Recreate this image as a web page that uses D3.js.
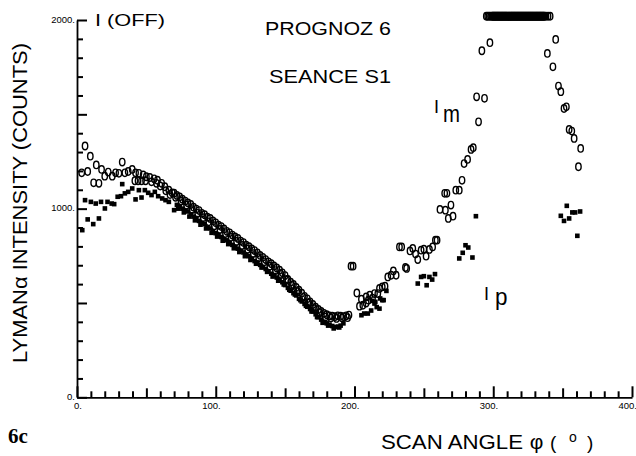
<!DOCTYPE html>
<html><head><meta charset="utf-8">
<script src="https://cdn.jsdelivr.net/npm/d3@7"></script>
<style>body{margin:0;background:#fff}svg{display:block}</style>
</head><body>
<svg id="chart" width="636" height="456"></svg>
<script>
// Axis ticks and labels
const xTickValues = [0, 100, 200, 300, 400];
const xTickLabels = ["0.", "100.", "200.", "300.", "400."];
const yTickValues = [0, 1000, 2000];
const yTickLabels = ["0.", "1000.", "2000."];
// Minor tick positions along each axis
const xMinorTicks = [0,10,20,30,40,50,60,70,80,90,100,110,120,130,140,150,160,170,180,190,200,210,220,230,240,250,260,270,280,290,300,310,320,330,340,350,360,370,380,390,400];
const yMinorTicks = [0,100,200,300,400,500,600,700,800,900,1000,1100,1200,1300,1400,1500,1600,1700,1800,1900,2000];

// I_m : open markers, [scan angle (deg), counts]
const imStart = [[3.4,1190],[5.8,1332],[7.7,1197],[9.6,1278],[12,1137],[13.9,1232],[15.8,1134],[17.7,1208],[20,1172],[22.5,1194],[25.4,1172],[27.8,1190],[30.2,1187],[32.6,1247],[34.5,1190],[36.9,1197],[39.8,1208],[42.2,1190],[44.6,1187],[47.7,1179],[50,1169],[52.5,1165],[55.6,1158],[58,1151],[61,1134],[63.3,1116],[66.2,1098],[68.6,1084],[41.7,1148],[44,1148],[46.5,1148],[49.4,1148],[53.7,1142],[57.3,1134],[60,1120],[64,1095],[67,1075]];
const imDecline = [[70,1082],[72,1070],[74,1062],[76,1050],[78,1040],[80,1030],[82,1022],[84,1008],[86,998],[88,990],[90,975],[92,968],[94,955],[96,948],[98,935],[100,925],[102,912],[104,905],[106,892],[108,880],[110,872],[112,860],[114,850],[116,842],[118,828],[120,820],[122,806],[124,798],[126,786],[128,778],[130,765],[132,752],[134,742],[136,730],[138,718],[140,708],[142,696],[144,686],[146,674],[148,660],[150,645],[152,625],[154,610],[156,598],[158,582],[160,568],[162,552],[164,535],[166,522],[168,506],[170,492],[172,478],[174,466],[176,455],[178,445],[180,438],[182,432],[184,430],[186,428],[188,432],[190,430],[192,428],[194,432],[196,436],
  [71,1060],[75,1040],[79,1018],[83,995],[87,975],[91,952],[95,930],[99,910],[103,890],[107,868],[111,848],[115,826],[119,805],[123,785],[127,762],[131,740],[135,718],[139,695],[143,672],[147,652],[151,625],[155,592],[159,560],[163,530],[167,500],[171,470],[175,448],[179,425],[183,420],[187,418],[191,420],[195,422]];
const imRise = [[197.5,695],[199,695],[201.7,553],[203.6,483],[206,488],[208.4,500],[205,520],[210,515],[213,525],[208.4,532],[211,541],[214.4,550],[216.8,550],[218,577],[220,585],[222,589],[224,638],[226.4,647],[228,670],[230,647],[232.4,797],[234,797],[236.7,688],[237.6,683],[240,776],[242,789],[244,759],[245.6,730],[248,780],[250,785],[251.6,748],[254,784],[256.3,797],[258.3,833],[259.5,833]];
const imClimb = [[261.6,996],[265.5,992],[265,1081],[266.6,1081],[267.6,948],[271,960],[269.5,1019],[273,1098],[275.5,1098],[277.5,1150],[279,1239],[281.5,1261],[284,1314],[285.6,1323],[289.4,1460],[288,1593],[293.7,1585],[291.8,1837],[297.6,1880]];
const imSaturated = [[295,2020],[296,2020],[297,2020],[298,2020],[299,2020],[299.5,2020],[300,2020],[300.5,2020],[301,2020],[301.5,2020],[302,2020],[302.5,2020],[303,2020],[303.5,2020],[304,2020],[304.5,2020],[305,2020],[305.5,2020],[306,2020],[306.5,2020],[307,2020],[307.5,2020],[308,2020],[308.5,2020],[309,2020],[309.5,2020],[310,2020],[310.5,2020],[311,2020],[311.5,2020],[312,2020],[312.5,2020],[313,2020],[313.5,2020],[314,2020],[314.5,2020],[315,2020],[315.5,2020],[316,2020],[316.5,2020],[317,2020],[317.5,2020],[318,2020],[318.5,2020],[319,2020],[319.5,2020],[320,2020],[320.5,2020],[321,2020],[321.5,2020],[322,2020],[322.5,2020],[323,2020],[323.5,2020],[324,2020],[324.5,2020],[325,2020],[325.5,2020],[326,2020],[326.5,2020],[327,2020],[327.5,2020],[328,2020],[328.5,2020],[329,2020],[329.5,2020],[330,2020],[330.5,2020],[331,2020],[331.5,2020],[332,2020],[332.5,2020],[333,2020],[333.5,2020],[334,2020],[334.5,2020],[335,2020],[335.5,2020],[336,2020],[336.5,2020],[337,2020],[338,2020],[339.5,2020],[341,2020]];
const imFall = [[339,1823],[343,1752],[345,1897],[347,1650],[348.7,1620],[351,1531],[352.7,1540],[354.7,1420],[356.6,1411],[358.3,1372],[363,1319],[361.4,1222]];

// I_p : filled markers, [scan angle (deg), counts]
const ipStart = [[3.8,886],[5.8,1045],[7.7,943],[10,1036],[11.7,918],[13.5,1027],[15.8,948],[17.3,1036],[20.1,1001],[22,1036],[25,1027],[26.8,1024],[29.3,1063],[31.7,1066],[32.6,1130],[34.5,1081],[36.9,1089],[39.8,1107],[42.2,1049],[44.6,1098],[46.5,1059],[48.9,1098],[51.3,1084],[53.7,1072],[56.1,1089],[58.5,1066],[61.4,1054],[63.8,1045],[66.2,1036],[70,992]];
const ipDecline = [[72,1020],[74,1012],[76,1000],[78,990],[80,985],[82,970],[84,958],[86,950],[88,935],[90,925],[92,918],[94,900],[96,895],[98,880],[100,870],[102,862],[104,850],[106,838],[108,832],[110,818],[112,808],[114,798],[116,788],[118,776],[120,768],[122,755],[124,748],[126,735],[128,722],[130,715],[132,702],[134,690],[136,680],[138,668],[140,655],[142,648],[144,635],[146,620],[148,610],[150,595],[152,580],[154,565],[156,552],[158,540],[160,522],[162,508],[164,495],[166,480],[168,468],[170,455],[172,440],[174,425],[176,412],[178,400],[180,392],[182,385],[184,378],[186,372],[188,375],[190,380],
  [73,1000],[77,980],[81,958],[85,938],[89,915],[93,895],[97,872],[101,852],[105,830],[109,812],[113,790],[117,770],[121,748],[125,728],[129,708],[133,688],[137,665],[141,640],[145,618],[149,598],[153,570],[157,545],[161,515],[165,485],[169,455],[173,425],[177,395],[181,380],[185,365],[189,370],[192,392]];
const ipRise = [[205,435],[207,444],[209.6,444],[212,460],[214.4,497],[216,478],[218,470],[220,515],[221,515],[223,564],[212.7,511],[215,506],[218.5,524],[245.6,603],[248,638],[250,642],[252,594],[254,638],[256,624],[258,653],[275.5,736],[278,766],[280,806],[282,794],[285,741],[287.5,960]];
const ipFar = [[348.7,962],[351,935],[353,1015],[354.7,948],[357,980],[359,980],[362.6,985],[360.6,856]];

const imSeries = [].concat(imStart, imDecline, imRise, imClimb, imSaturated, imFall);
const ipSeries = [].concat(ipStart, ipDecline, ipRise, ipFar);

const svg = d3.select("#chart");
const x = d3.scaleLinear().domain([0, 400]).range([77, 632]);
const y = d3.scaleLinear().domain([0, 2000]).range([397.3, 20]);

const font = "'Liberation Sans', Arial, sans-serif";

// Bottom axis: ticks every 10 degrees pointing up into the plot, longer at 50s and 100s
const gx = svg.append("g")
  .call(d3.axisBottom(x).tickValues(xMinorTicks).tickSizeOuter(0).tickFormat(() => ""))
  .attr("transform", `translate(0,${y(0)})`);
gx.select(".domain").attr("stroke", "#000").attr("stroke-width", 1.8);
gx.selectAll(".tick line")
  .attr("stroke", "#000").attr("stroke-width", 2)
  .attr("y2", d => -(d % 100 === 0 ? 11 : d % 50 === 0 ? 9 : 6));

// Left axis: ticks every 100 counts pointing right, longer at 500s
const gy = svg.append("g")
  .call(d3.axisLeft(y).tickValues(yMinorTicks).tickSizeOuter(0).tickFormat(() => ""))
  .attr("transform", `translate(${x(0)},0)`);
gy.select(".domain").attr("stroke", "#000").attr("stroke-width", 1.8);
gy.selectAll(".tick line")
  .attr("stroke", "#000").attr("stroke-width", 2)
  .attr("x2", d => (d % 500 === 0 ? 10 : 6));

// Tick labels
svg.append("g").selectAll("text").data(xTickValues).join("text")
  .attr("x", d => x(d) + 5).attr("y", 409)
  .attr("text-anchor", "end")
  .attr("font-family", font).attr("font-size", 9.5)
  .text((d, i) => xTickLabels[i]);
svg.append("g").selectAll("text").data(yTickValues).join("text")
  .attr("x", x(0) - 2).attr("y", d => y(d) + 2.5)
  .attr("text-anchor", "end")
  .attr("font-family", font).attr("font-size", 9.5)
  .text((d, i) => yTickLabels[i]);

// Markers
svg.append("g").selectAll("ellipse").data(imSeries).join("ellipse")
  .attr("cx", d => x(d[0])).attr("cy", d => y(d[1]))
  .attr("rx", 2.7).attr("ry", 3.7)
  .attr("fill", "none").attr("stroke", "#000").attr("stroke-width", 1.4);
svg.append("g").selectAll("rect").data(ipSeries).join("rect")
  .attr("x", d => x(d[0]) - 2.3).attr("y", d => y(d[1]) - 2.3)
  .attr("width", 4.6).attr("height", 4.6)
  .attr("fill", "#000");

// Texts
function label(t, px, py, size, opts = {}) {
  const el = svg.append("text").attr("x", px).attr("y", py)
    .attr("font-family", opts.family || font).attr("font-size", size)
    .attr("fill", "#000").text(t);
  if (opts.len) el.attr("textLength", opts.len).attr("lengthAdjust", "spacingAndGlyphs");
  if (opts.anchor) el.attr("text-anchor", opts.anchor);
  if (opts.weight) el.attr("font-weight", opts.weight);
  return el;
}
label("I (OFF)", 95, 25.5, 17, {len: 70});
label("PROGNOZ 6", 265, 35, 18.5, {len: 126});
label("SEANCE S1", 269, 83, 18.5, {len: 122});
label("I", 434, 113, 18);
label("m", 443, 122, 23, {len: 17});
label("I", 484, 300, 18);
label("p", 495, 305, 23, {len: 12.5});
label("6c", 8, 443, 21, {family: "'Liberation Serif', 'Times New Roman', serif", weight: "bold"});

// Axis titles
svg.append("text")
  .attr("transform", "translate(27,203) rotate(-90)")
  .attr("text-anchor", "middle")
  .attr("font-family", font).attr("font-size", 21)
  .attr("textLength", 320).attr("lengthAdjust", "spacingAndGlyphs")
  .text("LYMANα INTENSITY (COUNTS)");
label("SCAN ANGLE", 381, 449, 19.5, {len: 142});
label("φ", 536.5, 449, 21, {anchor: "middle"});
label("(", 550, 449, 19);
label("o", 573, 442, 14, {anchor: "middle"});
label(")", 587, 449, 19);
</script>
</body></html>
